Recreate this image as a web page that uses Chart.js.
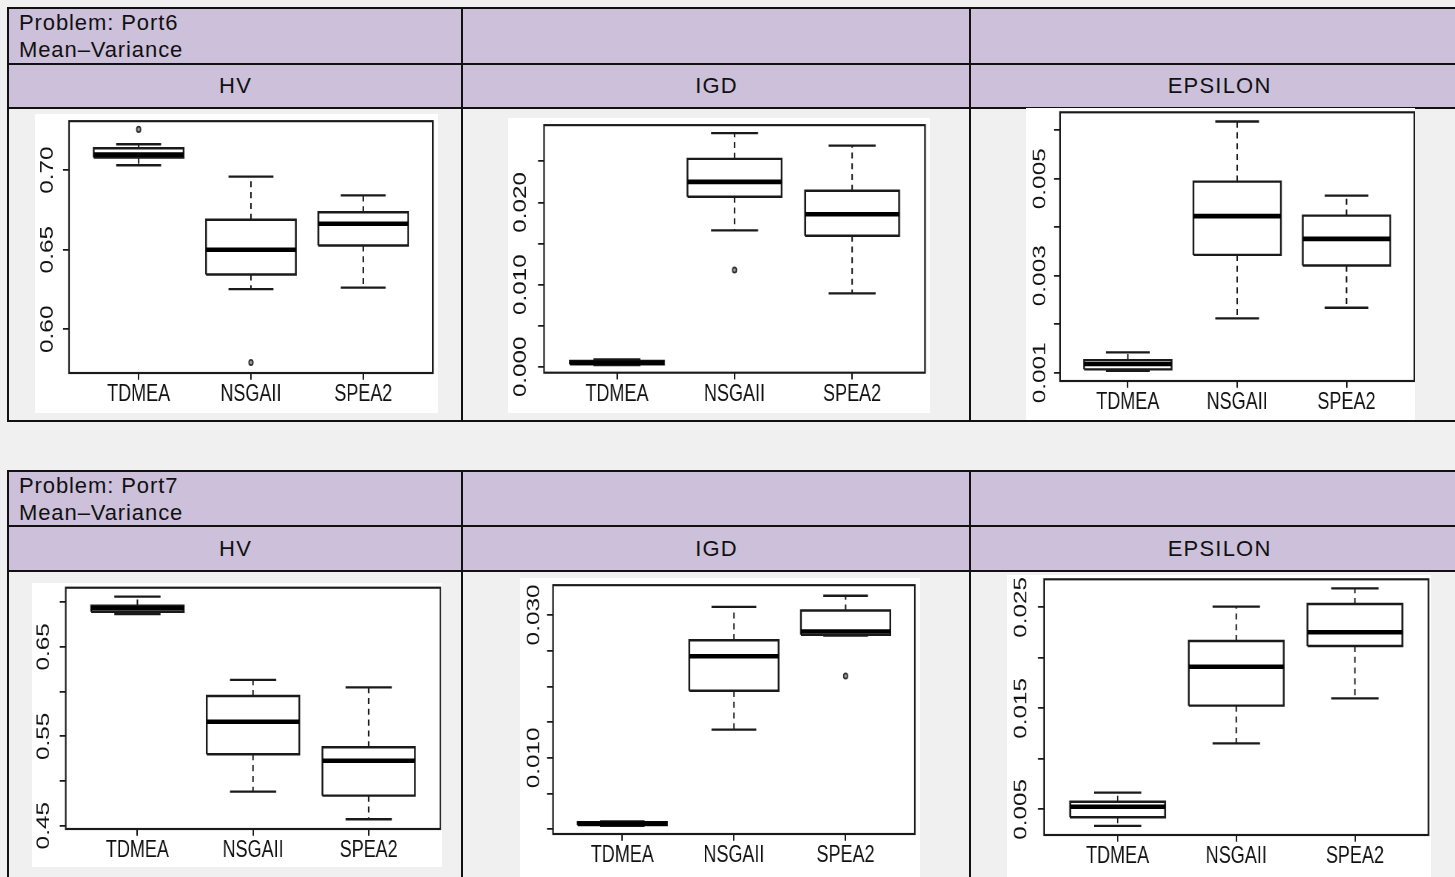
<!DOCTYPE html>
<html>
<head>
<meta charset="utf-8">
<title>Port6 / Port7 boxplots</title>
<script src="https://cdn.jsdelivr.net/npm/chart.js@4.4.1/dist/chart.umd.min.js"></script>
<style>
  html, body { margin: 0; padding: 0; }
  body { width: 1455px; height: 877px; overflow: hidden; background: #f0f0f0; position: relative;
         font-family: 'Liberation Sans', Arial, sans-serif; color: #111; }
  .tbl { position: absolute; left: 7px; width: 1462px; border: 2px solid #111; box-sizing: border-box; }
  .band { position: absolute; left: 0; right: 0; top: 0; height: 98px; background: #ccc0da; }
  .hline { position: absolute; left: 0; right: 0; height: 2px; background: #111; }
  .vline { position: absolute; top: 0; bottom: 0; width: 2px; background: #111; }
  .title { position: absolute; left: 10px; top: 0; font-size: 22px; line-height: 27px; letter-spacing: 0.9px; }
  .head { position: absolute; top: 56px; height: 42px; line-height: 42px; text-align: center; font-size: 22px;
          letter-spacing: 1.2px; padding-left: 1.2px; box-sizing: border-box; }
  .panel { position: absolute; background: #fff; overflow: hidden; }
  .panel canvas { position: absolute; left: 0; top: 0; transform-origin: 0 0; }
</style>
</head>
<body>

<div class="tbl" style="top:7px;height:415px">
  <div class="band"></div>
  <div class="hline" style="top:54px"></div>
  <div class="hline" style="top:98px"></div>
  <div class="vline" style="left:452px"></div>
  <div class="vline" style="left:960px"></div>
  <div class="title">Problem: Port6<br>Mean–Variance</div>
  <div class="head" style="left:0;width:452px">HV</div>
  <div class="head" style="left:454px;width:506px">IGD</div>
  <div class="head" style="left:962px;width:496px">EPSILON</div>
</div>

<div class="tbl" style="top:470px;height:420px">
  <div class="band"></div>
  <div class="hline" style="top:53px"></div>
  <div class="hline" style="top:98px"></div>
  <div class="vline" style="left:452px"></div>
  <div class="vline" style="left:960px"></div>
  <div class="title">Problem: Port7<br>Mean–Variance</div>
  <div class="head" style="left:0;width:452px">HV</div>
  <div class="head" style="left:454px;width:506px">IGD</div>
  <div class="head" style="left:962px;width:496px">EPSILON</div>
</div>

<script>
const methods = ['TDMEA', 'NSGAII', 'SPEA2'];

// Port6 - HV
const p6HvLow = [0.7031, 0.6252, 0.6262];
const p6HvQ1 = [0.7079, 0.6344, 0.6527];
const p6HvMedian = [0.7098, 0.6500, 0.6663];
const p6HvQ3 = [0.7138, 0.6688, 0.6735];
const p6HvHigh = [0.7163, 0.6960, 0.6841];
const p6HvOutliers = [['TDMEA', 0.7256], ['NSGAII', 0.5791]];
const p6HvRange = [0.5725, 0.7308];
const p6HvTicks = [0.60, 0.65, 0.70];
const p6HvTickLabels = ['0.60', '0.65', '0.70'];

// Port6 - IGD
const p6IgdLow = [0.0002, 0.01659, 0.00892];
const p6IgdQ1 = [0.0003, 0.02069, 0.01595];
const p6IgdMedian = [0.0005, 0.0225, 0.01855];
const p6IgdQ3 = [0.0007, 0.0253, 0.02141];
const p6IgdHigh = [0.0009, 0.02843, 0.02692];
const p6IgdOutliers = [['NSGAII', 0.01177]];
const p6IgdRange = [-0.00072, 0.0294];
const p6IgdTicks = [0, 0.005, 0.010, 0.015, 0.020, 0.025];
const p6IgdTickLabels = ['0.000', '', '0.010', '', '0.020', ''];

// Port6 - EPSILON
const p6EpsLow = [0.00104, 0.00212, 0.00234];
const p6EpsQ1 = [0.00107, 0.00343, 0.00321];
const p6EpsMedian = [0.00118, 0.00423, 0.00376];
const p6EpsQ3 = [0.00126, 0.00494, 0.00424];
const p6EpsHigh = [0.00142, 0.00618, 0.00465];
const p6EpsOutliers = [];
const p6EpsRange = [0.00083, 0.00637];
const p6EpsTicks = [0.001, 0.002, 0.003, 0.004, 0.005, 0.006];
const p6EpsTickLabels = ['0.001', '', '0.003', '', '0.005', ''];

// Port7 - HV
const p7HvLow = [0.6868, 0.4880, 0.4572];
const p7HvQ1 = [0.6894, 0.5299, 0.4836];
const p7HvMedian = [0.6932, 0.5663, 0.5227];
const p7HvQ3 = [0.6961, 0.5951, 0.5377];
const p7HvHigh = [0.7062, 0.6130, 0.6048];
const p7HvOutliers = [];
const p7HvRange = [0.4463, 0.7162];
const p7HvTicks = [0.45, 0.50, 0.55, 0.60, 0.65, 0.70];
const p7HvTickLabels = ['0.45', '', '0.55', '', '0.65', ''];

// Port7 - IGD
const p7IgdLow = [0.0005, 0.01395, 0.0271];
const p7IgdQ1 = [0.0006, 0.01938, 0.02721];
const p7IgdMedian = [0.0008, 0.02421, 0.02767];
const p7IgdQ3 = [0.0010, 0.02646, 0.03061];
const p7IgdHigh = [0.0011, 0.03112, 0.03268];
const p7IgdOutliers = [['SPEA2', 0.02145]];
const p7IgdRange = [-0.00065, 0.03416];
const p7IgdTicks = [0, 0.005, 0.010, 0.015, 0.020, 0.025, 0.030];
const p7IgdTickLabels = ['', '', '0.010', '', '', '', '0.030'];

// Port7 - EPSILON
const p7EpsLow = [0.00335, 0.01153, 0.01599];
const p7EpsQ1 = [0.00421, 0.01526, 0.02117];
const p7EpsMedian = [0.00526, 0.01912, 0.02252];
const p7EpsQ3 = [0.00575, 0.02166, 0.02533];
const p7EpsHigh = [0.00664, 0.02506, 0.02688];
const p7EpsOutliers = [];
const p7EpsRange = [0.002455, 0.02777];
const p7EpsTicks = [0.005, 0.010, 0.015, 0.020, 0.025];
const p7EpsTickLabels = ['0.005', '', '0.015', '', '0.025'];

// page layout of each R picture: image box [x, y, w, h], plot frame [x0, y0, x1, y1]
const layouts = {
  p6hv:  { img: [35, 114, 403, 299],   plot: [69, 120, 437, 373],      labelOffset: 21.5 },
  p6igd: { img: [508, 118, 422, 295],  plot: [544, 122.7, 928, 372.7], labelOffset: 23 },
  p6eps: { img: [1026, 108, 389, 312], plot: [1060, 112.3, 1414, 381], labelOffset: 20 },
  p7hv:  { img: [32, 583, 410, 284],   plot: [65.7, 587.7, 440, 829],  labelOffset: 21.7 },
  p7igd: { img: [520, 578, 400, 299],  plot: [553, 582, 917, 834],     labelOffset: 18.5 },
  p7eps: { img: [1007, 575, 424, 302], plot: [1044, 579.3, 1428, 835], labelOffset: 23 }
};

const STRETCH = 1.35;          // the R pictures are stretched vertically
const FONT_FAMILY = "'Liberation Sans', Arial, sans-serif";
const FONT_SIZE = 18;
const BOX_HALF = 0.4;
const CAP_HALF = 0.2;
const INK = '#1a1a1a';

const framePlugin = {
  id: 'frame',
  afterDraw(chart) {
    const { ctx, chartArea: a } = chart;
    ctx.save();
    ctx.strokeStyle = INK;
    ctx.lineWidth = 1.6;
    ctx.strokeRect(a.left, a.top, a.right - a.left, a.bottom - a.top);
    ctx.restore();
  }
};

function measureWidest(labels) {
  const c = document.createElement('canvas').getContext('2d');
  c.font = `${FONT_SIZE}px ${FONT_FAMILY}`;
  return Math.max(...labels.map(t => c.measureText(t).width));
}

function boxDatasets(s) {
  const box = [], median = [], whisker = [], cap = [];
  methods.forEach((m, i) => {
    const x = i + 1;
    box.push({ x: x - BOX_HALF, y: s.q1[i] }, { x: x + BOX_HALF, y: s.q1[i] },
             { x: x + BOX_HALF, y: s.q3[i] }, { x: x - BOX_HALF, y: s.q3[i] },
             { x: x - BOX_HALF, y: s.q1[i] }, { x: x, y: null });
    median.push({ x: x - BOX_HALF, y: s.median[i] }, { x: x + BOX_HALF, y: s.median[i] }, { x: x, y: null });
    whisker.push({ x: x, y: s.q3[i] }, { x: x, y: s.high[i] }, { x: x, y: null },
                 { x: x, y: s.q1[i] }, { x: x, y: s.low[i] }, { x: x, y: null });
    cap.push({ x: x - CAP_HALF, y: s.high[i] }, { x: x + CAP_HALF, y: s.high[i] }, { x: x, y: null },
             { x: x - CAP_HALF, y: s.low[i] }, { x: x + CAP_HALF, y: s.low[i] }, { x: x, y: null });
  });
  const outliers = s.outliers.map(([m, v]) => ({ x: methods.indexOf(m) + 1, y: v }));
  const line = { pointRadius: 0, tension: 0, fill: false, spanGaps: false, borderColor: INK };
  return [
    { ...line, data: median, borderColor: '#000', borderWidth: 3.4, borderCapStyle: 'butt' },
    { ...line, data: box, borderWidth: 1.8, borderJoinStyle: 'miter' },
    { ...line, data: cap, borderWidth: 1.7 },
    { ...line, data: whisker, borderWidth: 1.5, borderDash: [4.5, 3.5] },
    { data: outliers, showLine: false, pointRadius: 2, pointBorderWidth: 1.3,
      pointBackgroundColor: '#999', pointBorderColor: '#333' }
  ];
}

function makePanel(id, s) {
  const L = layouts[id];
  const [ix, iy, iw, ih] = L.img;
  const [px0, py0, px1, py1] = L.plot;
  const ch = Math.round(ih / STRETCH);
  const k = ih / ch;

  const wrap = document.createElement('div');
  wrap.className = 'panel';
  wrap.style.cssText = `left:${ix}px;top:${iy}px;width:${iw}px;height:${ih}px`;
  const canvas = document.createElement('canvas');
  canvas.width = iw;
  canvas.height = ch;
  canvas.style.transform = `scaleY(${k})`;
  wrap.appendChild(canvas);
  document.body.appendChild(wrap);

  const tickLenY = 6;
  const yPad = L.labelOffset - tickLenY - measureWidest(s.tickLabels) / 2;
  const font = { family: FONT_FAMILY, size: FONT_SIZE };
  const noOverflow = ax => { ax.paddingTop = 0; ax.paddingBottom = 0; ax.paddingLeft = 0; ax.paddingRight = 0; };

  new Chart(canvas, {
    type: 'line',
    data: { datasets: boxDatasets(s) },
    options: {
      responsive: false,
      animation: false,
      devicePixelRatio: k,
      events: [],
      layout: { padding: { left: 0, top: (py0 - iy) / k, right: ix + iw - px1, bottom: 0 } },
      plugins: { legend: { display: false }, tooltip: { enabled: false } },
      scales: {
        x: {
          type: 'linear', min: 0.38, max: 3.62, bounds: 'data',
          afterBuildTicks: ax => { ax.ticks = methods.map((m, i) => ({ value: i + 1 })); },
          afterFit: ax => { ax.height = (iy + ih - py1) / k; noOverflow(ax); },
          border: { display: false },
          grid: { drawOnChartArea: false, drawTicks: true, tickLength: 5, color: INK, lineWidth: 1.5 },
          ticks: { autoSkip: false, minRotation: 0, maxRotation: 0, padding: 0, font, color: '#111',
                   callback: v => methods[Math.round(v) - 1] }
        },
        y: {
          type: 'linear', min: s.range[0], max: s.range[1], bounds: 'data',
          afterBuildTicks: ax => { ax.ticks = s.ticks.map(v => ({ value: v })); },
          afterFit: ax => { ax.width = px0 - ix; noOverflow(ax); },
          border: { display: false },
          grid: { drawOnChartArea: false, drawTicks: true, tickLength: tickLenY, color: INK, lineWidth: 1.3 },
          ticks: { autoSkip: false, minRotation: 90, maxRotation: 90, crossAlign: 'center',
                   padding: yPad, font, color: '#111', callback: (v, i) => s.tickLabels[i] }
        }
      }
    },
    plugins: [framePlugin]
  });
}

makePanel('p6hv', { low: p6HvLow, q1: p6HvQ1, median: p6HvMedian, q3: p6HvQ3, high: p6HvHigh,
  outliers: p6HvOutliers, range: p6HvRange, ticks: p6HvTicks, tickLabels: p6HvTickLabels });
makePanel('p6igd', { low: p6IgdLow, q1: p6IgdQ1, median: p6IgdMedian, q3: p6IgdQ3, high: p6IgdHigh,
  outliers: p6IgdOutliers, range: p6IgdRange, ticks: p6IgdTicks, tickLabels: p6IgdTickLabels });
makePanel('p6eps', { low: p6EpsLow, q1: p6EpsQ1, median: p6EpsMedian, q3: p6EpsQ3, high: p6EpsHigh,
  outliers: p6EpsOutliers, range: p6EpsRange, ticks: p6EpsTicks, tickLabels: p6EpsTickLabels });
makePanel('p7hv', { low: p7HvLow, q1: p7HvQ1, median: p7HvMedian, q3: p7HvQ3, high: p7HvHigh,
  outliers: p7HvOutliers, range: p7HvRange, ticks: p7HvTicks, tickLabels: p7HvTickLabels });
makePanel('p7igd', { low: p7IgdLow, q1: p7IgdQ1, median: p7IgdMedian, q3: p7IgdQ3, high: p7IgdHigh,
  outliers: p7IgdOutliers, range: p7IgdRange, ticks: p7IgdTicks, tickLabels: p7IgdTickLabels });
makePanel('p7eps', { low: p7EpsLow, q1: p7EpsQ1, median: p7EpsMedian, q3: p7EpsQ3, high: p7EpsHigh,
  outliers: p7EpsOutliers, range: p7EpsRange, ticks: p7EpsTicks, tickLabels: p7EpsTickLabels });
</script>
</body>
</html>
